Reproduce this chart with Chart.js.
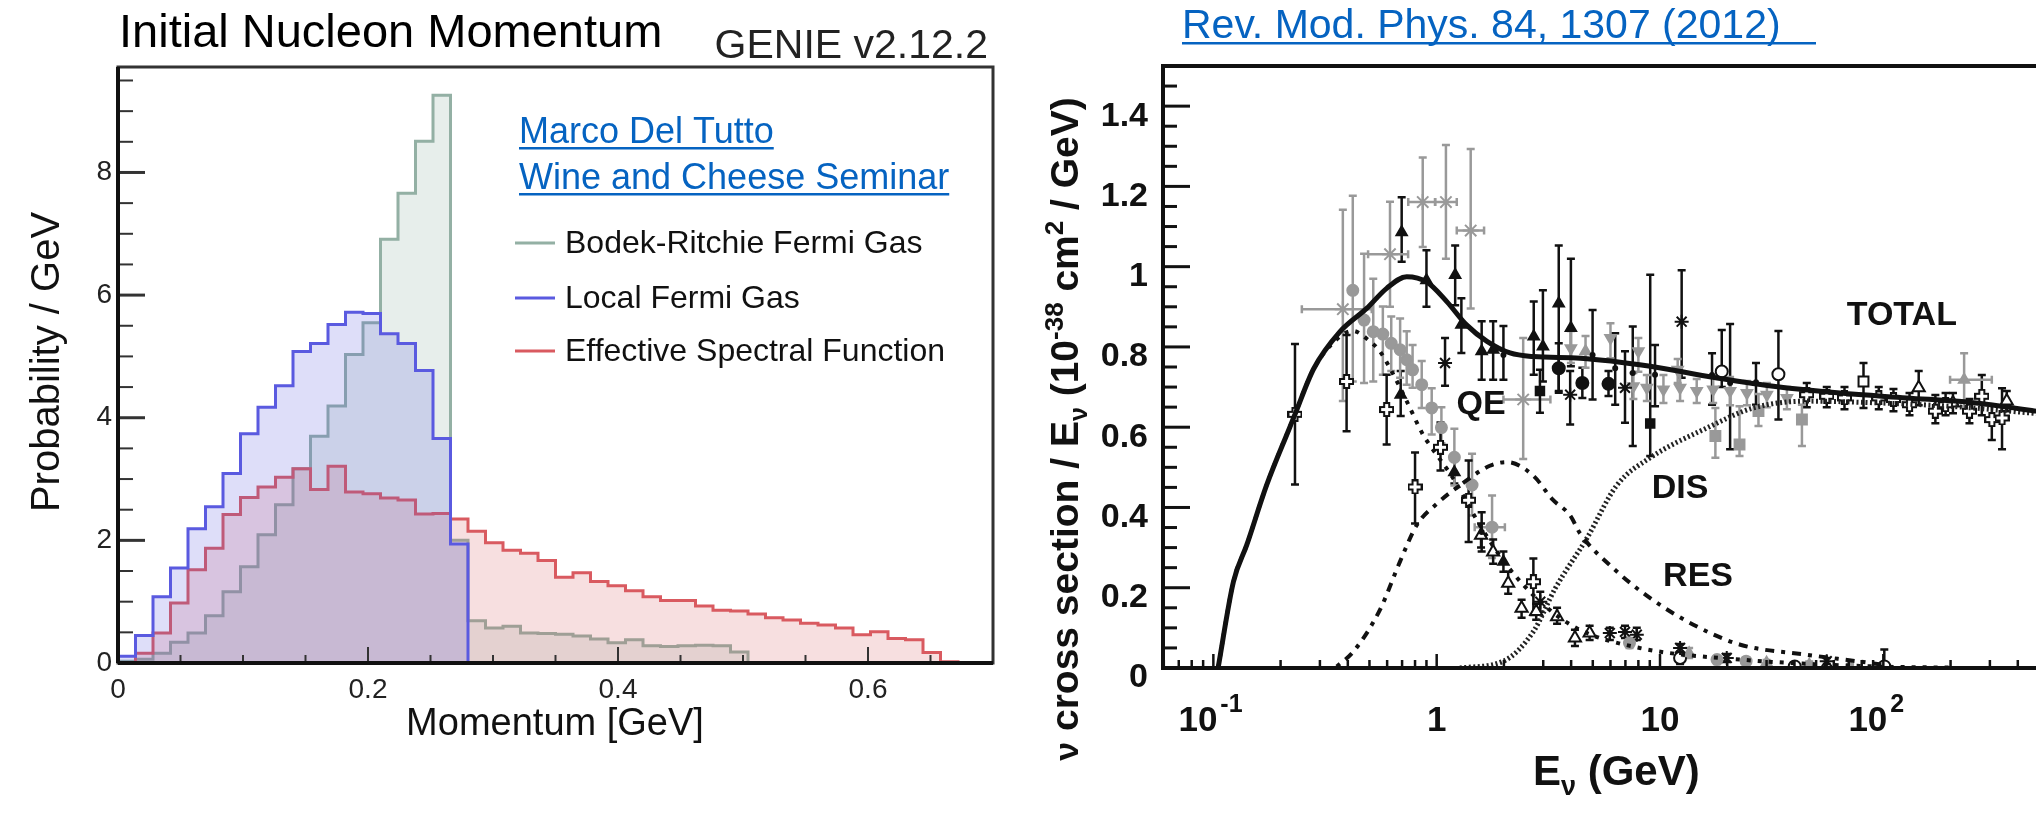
<!DOCTYPE html>
<html>
<head>
<meta charset="utf-8">
<title>Nucleon momentum and neutrino cross section</title>
<script src="https://cdn.jsdelivr.net/npm/chart.js@4.4.1/dist/chart.umd.min.js"></script>
<style>
  html, body { margin: 0; padding: 0; background: #fff; width: 2036px; height: 818px; overflow: hidden; }
  canvas { position: absolute; top: 0; }
  #momentum { left: 0; }
  #xsec { left: 1010px; }
</style>
</head>
<body>
<canvas id="momentum" width="1010" height="818"></canvas>
<canvas id="xsec" width="1050" height="818"></canvas>
<script>
const FONT = '"Liberation Sans", Arial, sans-serif';

// ---------- left panel: initial nucleon momentum, 0.014 GeV bins ----------
const binWidth = 0.014;
const bodekRitchie = [0.03, 0.06, 0.16, 0.34, 0.49, 0.77, 1.16, 1.57, 2.09, 2.58,
  3.17, 3.70, 4.19, 5.03, 5.55, 6.91, 7.66, 8.51, 9.26, 2.00,
  0.69, 0.57, 0.60, 0.49, 0.48, 0.47, 0.44, 0.39, 0.33, 0.38,
  0.28, 0.27, 0.28, 0.29, 0.28, 0.18, 0, 0, 0, 0,
  0, 0, 0, 0, 0, 0, 0];
const localFermi = [0.11, 0.45, 1.08, 1.55, 2.19, 2.55, 3.09, 3.74, 4.17, 4.52,
  5.08, 5.21, 5.52, 5.72, 5.70, 5.37, 5.21, 4.77, 3.66, 1.94,
  0, 0, 0, 0, 0, 0, 0, 0, 0, 0,
  0, 0, 0, 0, 0, 0, 0, 0, 0, 0,
  0, 0, 0, 0, 0, 0, 0];
const effSpectral = [0.01, 0.16, 0.49, 0.98, 1.52, 1.87, 2.42, 2.70, 2.87, 3.03,
  3.17, 2.83, 3.21, 2.79, 2.76, 2.69, 2.66, 2.43, 2.44, 2.35,
  2.15, 1.96, 1.84, 1.79, 1.67, 1.40, 1.47, 1.33, 1.26, 1.18,
  1.08, 1.02, 1.02, 0.93, 0.86, 0.85, 0.80, 0.74, 0.70, 0.65,
  0.62, 0.57, 0.46, 0.51, 0.40, 0.38, 0.17, 0.02, 0, 0];
const momentumTicks = [0, 0.2, 0.4, 0.6];
const probTicks = [0, 2, 4, 6, 8];

// ---------- right panel: nu_mu CC cross section / E ----------
const energyTicks = [0.1, 1, 10, 100];
const xsecTicks = [0, 0.2, 0.4, 0.6, 0.8, 1, 1.2, 1.4];

const totalE = [0.105, 0.123, 0.141, 0.173, 0.22, 0.232, 0.281, 0.369, 0.486, 0.597, 0.734, 0.902, 1.11, 1.36, 1.68, 2.13, 2.71, 4.39, 9.04, 16.2, 32.2, 64, 127, 253, 483, 535];
const totalY = [0, 0.215, 0.306, 0.455, 0.60, 0.632, 0.745, 0.838, 0.896, 0.946, 0.975, 0.962, 0.913, 0.855, 0.814, 0.785, 0.776, 0.772, 0.752, 0.727, 0.702, 0.685, 0.673, 0.661, 0.640, 0.636];
const qeE = [0.105, 0.123, 0.141, 0.173, 0.232, 0.281, 0.369, 0.42, 0.5, 0.557, 0.64, 0.734, 0.871, 0.933, 1.19, 1.56, 2.06, 2.91, 4.24, 8.1, 22.9, 90, 200];
const qeY = [0, 0.215, 0.306, 0.455, 0.632, 0.745, 0.826, 0.84, 0.815, 0.789, 0.731, 0.665, 0.58, 0.555, 0.471, 0.356, 0.256, 0.165, 0.099, 0.05, 0.021, 0.004, 0.001];
const resE = [0.357, 0.424, 0.557, 0.685, 0.814, 1.0, 1.27, 1.73, 2.06, 2.71, 3.3, 3.96, 4.39, 6.19, 9.04, 14.1, 22.9, 45.5, 76, 100];
const resY = [0.004, 0.041, 0.145, 0.265, 0.356, 0.409, 0.455, 0.504, 0.513, 0.479, 0.42, 0.38, 0.335, 0.248, 0.174, 0.108, 0.058, 0.033, 0.017, 0.008];
const disE = [1.27, 1.99, 2.71, 3.4, 4.7, 6.4, 9.04, 16.2, 26.2, 45.5, 100, 200, 535];
const disY = [0, 0.017, 0.091, 0.199, 0.323, 0.455, 0.524, 0.598, 0.648, 0.665, 0.66, 0.652, 0.632];
const curveLabels = [['TOTAL', 121, 0.879], ['QE', 1.58, 0.656], ['DIS', 12.3, 0.447], ['RES', 14.8, 0.227]];

// measurements: energy, value, lower and upper error
const blkTriE = [0.697, 0.69, 0.90, 1.21, 1.29, 1.59, 1.79, 2.72, 2.99, 3.52, 3.99, 1.20, 1.99];
const blkTriY = [1.086, 0.681, 0.966, 0.979, 0.855, 0.789, 0.793, 0.826, 0.801, 0.908, 0.847, 0.488, 0.265];
const blkTriLo = [1.012, 0.628, 0.900, 0.904, 0.785, 0.718, 0.718, 0.731, 0.714, 0.690, 0.752, 0.46, 0.24];
const blkTriHi = [1.173, 0.740, 1.041, 1.053, 0.921, 0.864, 0.864, 0.913, 0.941, 1.053, 1.020, 0.52, 0.29];

const grayDotE = [0.421, 0.473, 0.52, 0.574, 0.626, 0.686, 0.734, 0.78, 0.857, 0.95, 1.05, 1.20, 1.44, 1.77, 7.3, 18.0, 24.3];
const grayDotY = [0.941, 0.867, 0.838, 0.832, 0.809, 0.793, 0.768, 0.743, 0.706, 0.648, 0.599, 0.525, 0.456, 0.351, 0.062, 0.021, 0.017];
const grayDotLo = [0.714, 0.710, 0.714, 0.731, 0.740, 0.723, 0.706, 0.698, 0.648, 0.582, 0.56, 0.455, 0.380, 0.274, 0.05, 0.01, 0.008];
const grayDotHi = [1.177, 1.032, 0.970, 0.901, 0.876, 0.871, 0.839, 0.805, 0.765, 0.697, 0.65, 0.596, 0.534, 0.430, 0.075, 0.03, 0.026];
const grayDotXLo = [null, null, null, null, null, null, null, null, null, null, null, null, null, 1.48, null, null, null];
const grayDotXHi = [null, null, null, null, null, null, null, null, null, null, null, null, null, 2.02, null, null, null];

const grayStarE = [0.380, 0.618, 0.866, 1.10, 1.42, 2.44];
const grayStarY = [0.894, 1.031, 1.161, 1.161, 1.090, 0.669];
const grayStarLo = [0.665, 0.900, 1.049, 1.020, 0.896, 0.521];
const grayStarHi = [1.142, 1.162, 1.272, 1.303, 1.293, 0.822];
const grayStarXLo = [0.249, 0.493, 0.746, 0.984, 1.23, 1.99];
const grayStarXHi = [0.512, 0.745, 0.984, 1.23, 1.63, 3.23];

const openPlusE = [0.232, 0.395, 0.597, 0.800, 1.04, 1.39, 2.71, 45.4, 55.8, 67, 95.4, 111, 131, 171, 190, 243, 276, 306, 340];
const openPlusY = [0.632, 0.714, 0.644, 0.451, 0.550, 0.418, 0.215, 0.681, 0.677, 0.673, 0.673, 0.669, 0.656, 0.640, 0.656, 0.640, 0.677, 0.619, 0.623];
const openPlusLo = [0.457, 0.590, 0.557, 0.360, 0.492, 0.314, 0.132, 0.65, 0.65, 0.645, 0.645, 0.64, 0.63, 0.61, 0.63, 0.61, 0.63, 0.568, 0.545];
const openPlusHi = [0.807, 0.830, 0.731, 0.537, 0.612, 0.517, 0.273, 0.71, 0.70, 0.70, 0.70, 0.695, 0.685, 0.68, 0.685, 0.67, 0.73, 0.656, 0.697];

const blkStarE = [1.09, 3.96, 6.97, 12.5, 2.91, 5.96, 6.97, 7.87, 12.3, 19.9, 55.8];
const blkStarY = [0.760, 0.681, 0.698, 0.863, 0.165, 0.087, 0.090, 0.083, 0.050, 0.025, 0.017];
const blkStarLo = [0.703, 0.607, 0.611, 0.723, 0.14, 0.07, 0.075, 0.07, 0.04, 0.015, 0.01];
const blkStarHi = [0.822, 0.740, 0.789, 0.991, 0.19, 0.10, 0.105, 0.10, 0.06, 0.035, 0.025];

const blkDotE = [3.52, 4.49, 5.88];
const blkDotY = [0.747, 0.710, 0.708];
const blkDotLo = [0.686, 0.673, 0.678];
const blkDotHi = [0.809, 0.748, 0.740];

const blkSqE = [2.90, 9.04];
const blkSqY = [0.690, 0.609];
const blkSqLo = [0.636, 0.528];
const blkSqHi = [0.743, 0.980];

const blkBarE = [1.99, 4.99, 6.3, 7.55, 9.5, 20.6, 17.1, 26.9, 1.59];
const blkBarY = [0.78, 0.78, 0.747, 0.735, 0.731, 0.71, 0.73, 0.712, 0.339];
const blkBarLo = [0.718, 0.669, 0.656, 0.553, 0.652, 0.545, 0.656, 0.656, 0.29];
const blkBarHi = [0.852, 0.892, 0.834, 0.851, 0.805, 0.857, 0.784, 0.760, 0.388];

const grayDownE = [3.99, 6.0, 8.0, 12.0, 7.6, 8.73, 10.36, 12.3, 14.6, 17.3, 20.6, 24.5, 30.1, 37.0];
const grayDownY = [0.797, 0.822, 0.789, 0.743, 0.702, 0.698, 0.694, 0.698, 0.690, 0.694, 0.690, 0.685, 0.681, 0.673];
const grayDownLo = [0.76, 0.772, 0.738, 0.71, 0.67, 0.665, 0.66, 0.665, 0.66, 0.66, 0.655, 0.655, 0.65, 0.645];
const grayDownHi = [0.84, 0.859, 0.822, 0.77, 0.735, 0.73, 0.73, 0.735, 0.72, 0.73, 0.725, 0.715, 0.71, 0.70];

const grayTriE = [4.64, 230, 13.5, 30.0, 46.6, 71];
const grayTriY = [0.789, 0.718, 0.037, 0.013, 0.008, 0.003];
const grayTriLo = [0.748, 0.652, 0.025, 0.005, 0.0, 0.0];
const grayTriHi = [0.827, 0.784, 0.05, 0.02, 0.016, 0.01];
const grayTriXLo = [null, 199, null, null, null, null];
const grayTriXHi = [null, 306, null, null, null, null];

const graySqE = [17.7, 22.7, 27.6, 43.2];
const graySqY = [0.578, 0.557, 0.640, 0.619];
const graySqLo = [0.524, 0.528, 0.603, 0.553];
const graySqHi = [0.648, 0.652, 0.683, 0.656];

const openDotE = [18.9, 33.9, 12.3, 40.1, 101];
const openDotY = [0.739, 0.732, 0.025, 0.004, 0.004];
const openDotLo = [0.70, 0.619, 0.01, 0.0, 0.0];
const openDotHi = [0.842, 0.840, 0.04, 0.012, 0.046];

const openTriE = [1.58, 1.79, 2.09, 2.40, 2.79, 3.46, 4.16, 4.84, 144, 205, 357];
const openTriY = [0.331, 0.289, 0.211, 0.149, 0.141, 0.128, 0.075, 0.087, 0.698, 0.660, 0.665];
const openTriLo = [0.30, 0.26, 0.185, 0.125, 0.12, 0.11, 0.055, 0.07, 0.655, 0.635, 0.64];
const openTriHi = [0.36, 0.32, 0.24, 0.17, 0.16, 0.15, 0.095, 0.105, 0.74, 0.685, 0.69];

const openSqE = [81.5];
const openSqY = [0.714];
const openSqLo = [0.648];
const openSqHi = [0.760];

// ---------- helpers ----------
// bin i covers [i*binWidth, (i+1)*binWidth]
function steps(vals) {
  const pts = vals.map((v, i) => ({ x: i * binWidth, y: v }));
  pts.push({ x: vals.length * binWidth, y: vals[vals.length - 1] });
  return pts;
}
function pts(xs, ys) {
  return xs.map((x, i) => ({ x: x, y: ys[i] }));
}
function plusMarker(size) {
  const c = document.createElement('canvas');
  c.width = c.height = size;
  const g = c.getContext('2d');
  const t = size * 0.34, m = (size - t) / 2, e = size - 1;
  g.beginPath();
  g.moveTo(m, 1); g.lineTo(m + t, 1); g.lineTo(m + t, m); g.lineTo(e, m);
  g.lineTo(e, m + t); g.lineTo(m + t, m + t); g.lineTo(m + t, e); g.lineTo(m, e);
  g.lineTo(m, m + t); g.lineTo(1, m + t); g.lineTo(1, m); g.lineTo(m, m);
  g.closePath();
  g.fillStyle = '#fff'; g.fill();
  g.lineWidth = 2; g.strokeStyle = '#111'; g.stroke();
  return c;
}
function underlined(ctx, text, x, y, color, endX) {
  ctx.fillStyle = color;
  ctx.textAlign = 'left';
  ctx.textBaseline = 'alphabetic';
  ctx.fillText(text, x, y);
  const w = endX ? endX - x : ctx.measureText(text).width;
  ctx.fillRect(x, y + 4, w, 2.5);
}
// draws a run of [text, size, dy] pieces starting at x
function richText(ctx, parts, x, y, weight) {
  let cx = x;
  for (const [t, size, dy] of parts) {
    ctx.font = `${weight} ${size}px ${FONT}`;
    ctx.fillText(t, cx, y + dy);
    cx += ctx.measureText(t).width;
  }
  return cx;
}
function richWidth(ctx, parts, weight) {
  let w = 0;
  for (const [t, size] of parts) {
    ctx.font = `${weight} ${size}px ${FONT}`;
    w += ctx.measureText(t).width;
  }
  return w;
}

// ---------- left panel decorations ----------
const momentumDecor = {
  id: 'momentumDecor',
  afterDraw(chart) {
    const { ctx, chartArea: a, scales: { x, y } } = chart;
    ctx.save();
    // inner tick marks
    ctx.strokeStyle = '#333';
    for (let k = 0; k <= 19; k++) {
      const py = y.getPixelForValue(k * 0.5);
      const major = k % 4 === 0;
      ctx.lineWidth = major ? 3 : 2;
      ctx.beginPath(); ctx.moveTo(a.left, py); ctx.lineTo(a.left + (major ? 27 : 15), py); ctx.stroke();
    }
    for (let k = 0; k <= 14; k++) {
      const px = x.getPixelForValue(k * 0.05);
      const major = k % 4 === 0;
      ctx.lineWidth = 2;
      ctx.beginPath(); ctx.moveTo(px, a.bottom); ctx.lineTo(px, a.bottom - (major ? 16 : 8)); ctx.stroke();
    }
    // frame
    ctx.lineWidth = 3;
    ctx.strokeStyle = '#333';
    ctx.strokeRect(a.left, a.top, a.right - a.left, a.bottom - a.top);
    ctx.strokeStyle = '#111';
    ctx.lineWidth = 4;
    ctx.beginPath(); ctx.moveTo(a.left, a.bottom); ctx.lineTo(a.right, a.bottom); ctx.stroke();
    ctx.beginPath(); ctx.moveTo(a.left, a.top); ctx.lineTo(a.left, a.bottom); ctx.stroke();

    // legend
    const rows = [
      ['Bodek-Ritchie Fermi Gas', '#93b0a4', 243],
      ['Local Fermi Gas', '#5a5ae0', 298],
      ['Effective Spectral Function', '#d95a60', 351]
    ];
    ctx.font = `32px ${FONT}`;
    ctx.textBaseline = 'middle';
    ctx.textAlign = 'left';
    for (const [label, color, ly] of rows) {
      ctx.strokeStyle = color; ctx.lineWidth = 3;
      ctx.beginPath(); ctx.moveTo(515, ly); ctx.lineTo(555, ly); ctx.stroke();
      ctx.fillStyle = '#111';
      ctx.fillText(label, 565, ly + 1);
    }

    // titles
    ctx.fillStyle = '#000';
    ctx.textBaseline = 'alphabetic';
    ctx.font = `47px ${FONT}`;
    ctx.fillText('Initial Nucleon Momentum', 119, 47);
    ctx.fillStyle = '#222';
    ctx.font = `41px ${FONT}`;
    ctx.textAlign = 'right';
    ctx.fillText('GENIE v2.12.2', 988, 58);

    ctx.font = `36px ${FONT}`;
    underlined(ctx, 'Marco Del Tutto', 519, 143, '#0563C1');
    underlined(ctx, 'Wine and Cheese Seminar', 519, 189, '#0563C1');

    ctx.fillStyle = '#111';
    ctx.font = `38px ${FONT}`;
    ctx.textAlign = 'center';
    ctx.fillText('Momentum [GeV]', 555, 735);

    ctx.save();
    ctx.translate(48, 362);
    ctx.rotate(-Math.PI / 2);
    ctx.font = `40px ${FONT}`;
    ctx.textBaseline = 'middle';
    ctx.fillText('Probability / GeV', 0, 0);
    ctx.restore();
    ctx.restore();
  }
};

new Chart(document.getElementById('momentum'), {
  type: 'line',
  data: {
    datasets: [
      { label: 'Local Fermi Gas', data: steps(localFermi), borderColor: '#5a5ae0', backgroundColor: 'rgba(90,90,225,0.2)' },
      { label: 'Effective Spectral Function', data: steps(effSpectral), borderColor: '#d95a60', backgroundColor: 'rgba(215,85,90,0.19)' },
      { label: 'Bodek-Ritchie Fermi Gas', data: steps(bodekRitchie), borderColor: '#93b0a4', backgroundColor: 'rgba(147,176,164,0.22)' }
    ].map(d => Object.assign(d, { fill: 'origin', stepped: 'before', borderWidth: 3, pointRadius: 0 }))
  },
  options: {
    responsive: false,
    animation: false,
    devicePixelRatio: 1,
    layout: { padding: { left: 0, top: 67, right: 17, bottom: 0 } },
    plugins: { legend: { display: false }, tooltip: { enabled: false } },
    scales: {
      x: {
        type: 'linear', min: 0, max: 0.7,
        afterBuildTicks: s => { s.ticks = momentumTicks.map(v => ({ value: v })); },
        afterFit: s => { s.height = 155; },
        grid: { display: false, drawTicks: false },
        border: { display: false },
        ticks: { padding: 10, maxRotation: 0, autoSkip: false, color: '#222', font: { family: FONT, size: 28 }, callback: v => String(v) }
      },
      y: {
        type: 'linear', min: 0, max: 9.72,
        afterBuildTicks: s => { s.ticks = probTicks.map(v => ({ value: v })); },
        afterFit: s => { s.width = 118; },
        grid: { display: false, drawTicks: false },
        border: { display: false },
        ticks: { padding: 6, autoSkip: false, color: '#222', font: { family: FONT, size: 28 }, callback: v => String(v) }
      }
    }
  },
  plugins: [momentumDecor]
});

// ---------- right panel ----------
const errorBars = {
  id: 'errorBars',
  beforeDatasetsDraw(chart) {
    const { ctx, chartArea: a, scales: { x, y } } = chart;
    ctx.save();
    ctx.beginPath(); ctx.rect(a.left, a.top, a.right - a.left, a.bottom - a.top); ctx.clip();
    chart.data.datasets.forEach(ds => {
      if (!ds.errLo) return;
      ctx.strokeStyle = ds.errColor;
      ctx.lineWidth = 2.5;
      ds.data.forEach((p, i) => {
        const px = x.getPixelForValue(p.x);
        const py = y.getPixelForValue(p.y);
        const lo = y.getPixelForValue(ds.errLo[i]);
        const hi = y.getPixelForValue(ds.errHi[i]);
        ctx.beginPath();
        ctx.moveTo(px, lo); ctx.lineTo(px, hi);
        ctx.moveTo(px - 4, lo); ctx.lineTo(px + 4, lo);
        ctx.moveTo(px - 4, hi); ctx.lineTo(px + 4, hi);
        if (ds.xLo && ds.xLo[i] != null) {
          const l = x.getPixelForValue(ds.xLo[i]), r = x.getPixelForValue(ds.xHi[i]);
          ctx.moveTo(l, py); ctx.lineTo(r, py);
          ctx.moveTo(l, py - 4); ctx.lineTo(l, py + 4);
          ctx.moveTo(r, py - 4); ctx.lineTo(r, py + 4);
        }
        ctx.stroke();
      });
    });
    ctx.restore();
  }
};

const xsecDecor = {
  id: 'xsecDecor',
  afterDraw(chart) {
    const { ctx, chartArea: a, scales: { x, y } } = chart;
    ctx.save();
    ctx.strokeStyle = '#111';
    // y ticks every 0.05
    for (let k = 0; k <= 29; k++) {
      const py = y.getPixelForValue(k * 0.05);
      const major = k % 4 === 0;
      ctx.lineWidth = 3;
      ctx.beginPath(); ctx.moveTo(a.left, py); ctx.lineTo(a.left + (major ? 27 : 14), py); ctx.stroke();
    }
    // log x ticks
    for (let dec = -2; dec <= 2; dec++) {
      for (let m = 1; m <= 9; m++) {
        const v = m * Math.pow(10, dec);
        if (v < x.min || v > x.max) continue;
        const px = x.getPixelForValue(v);
        ctx.lineWidth = 2.5;
        ctx.beginPath(); ctx.moveTo(px, a.bottom); ctx.lineTo(px, a.bottom - (m === 1 ? 14 : 8)); ctx.stroke();
      }
    }
    // frame
    ctx.lineWidth = 4;
    ctx.strokeRect(a.left, a.top, a.right - a.left, a.bottom - a.top);

    // x tick labels with powers of ten
    ctx.fillStyle = '#111';
    ctx.textBaseline = 'alphabetic';
    energyTicks.forEach(v => {
      const px = x.getPixelForValue(v);
      const exp = Math.round(Math.log10(v));
      ctx.font = `bold 35px ${FONT}`;
      if (exp === 0 || exp === 1) {
        ctx.textAlign = 'center';
        ctx.fillText(String(v), px, 731);
      } else {
        ctx.textAlign = 'right';
        ctx.fillText('10', px + 4, 731);
        ctx.textAlign = 'left';
        ctx.font = `bold 25px ${FONT}`;
        ctx.fillText(exp < 0 ? '-1' : String(exp), px + 7, 712);
      }
    });

    // curve labels
    ctx.font = `bold 34px ${FONT}`;
    ctx.textAlign = 'center';
    ctx.textBaseline = 'middle';
    curveLabels.forEach(([t, e, v]) => {
      ctx.fillText(t, x.getPixelForValue(e), y.getPixelForValue(v));
    });

    // axis titles
    ctx.textAlign = 'left';
    ctx.textBaseline = 'alphabetic';
    richText(ctx, [['E', 42, 0], ['\u03bd', 27, 10], [' (GeV)', 42, 0]], 523, 785, 'bold');

    const yTitle = [['\u03bd', 34, 0], [' cross section / E', 39, 0], ['\u03bd', 25, 9],
      [' (10', 39, 0], ['-38', 26, -15], [' cm', 39, 0], ['2', 26, -15], [' / GeV)', 39, 0]];
    ctx.save();
    ctx.translate(54, 429);
    ctx.rotate(-Math.PI / 2);
    const w = richWidth(ctx, yTitle, 'bold');
    richText(ctx, yTitle, -w / 2, 14, 'bold');
    ctx.restore();

    // reference link
    ctx.font = `41px ${FONT}`;
    underlined(ctx, 'Rev. Mod. Phys. 84, 1307 (2012)', 172, 38, '#0563C1', 806);
    ctx.restore();
  }
};

const plusImg = plusMarker(15);
function series(xs, ys, lo, hi, style) {
  return Object.assign({ type: 'scatter', data: pts(xs, ys), errLo: lo, errHi: hi, order: 2, pointRadius: 6, borderWidth: 2 }, style);
}
function curve(xs, ys, style) {
  return Object.assign({ type: 'line', data: pts(xs, ys), pointRadius: 0, borderColor: '#111', fill: false, cubicInterpolationMode: 'monotone', order: 1 }, style);
}

new Chart(document.getElementById('xsec'), {
  type: 'scatter',
  data: {
    datasets: [
      curve(totalE, totalY, { label: 'TOTAL', borderWidth: 5 }),
      curve(qeE, qeY, { label: 'QE', borderWidth: 4, borderDash: [4, 7] }),
      curve(resE, resY, { label: 'RES', borderWidth: 4, borderDash: [4, 7, 9, 7] }),
      curve(disE, disY, { label: 'DIS', borderWidth: 5, borderDash: [2, 2.5], borderColor: '#222' }),
      series(blkTriE, blkTriY, blkTriLo, blkTriHi, { pointStyle: 'triangle', backgroundColor: '#111', borderColor: '#111', errColor: '#111' }),
      series(grayDotE, grayDotY, grayDotLo, grayDotHi, { pointStyle: 'circle', pointRadius: 5.5, backgroundColor: '#999', borderColor: '#999', errColor: '#999', xLo: grayDotXLo, xHi: grayDotXHi }),
      series(grayStarE, grayStarY, grayStarLo, grayStarHi, { pointStyle: 'star', pointRadius: 8, borderColor: '#999', errColor: '#999', xLo: grayStarXLo, xHi: grayStarXHi }),
      series(openPlusE, openPlusY, openPlusLo, openPlusHi, { pointStyle: plusImg, errColor: '#111' }),
      series(blkStarE, blkStarY, blkStarLo, blkStarHi, { pointStyle: 'star', pointRadius: 7, borderColor: '#111', errColor: '#111' }),
      series(blkDotE, blkDotY, blkDotLo, blkDotHi, { pointStyle: 'circle', backgroundColor: '#111', borderColor: '#111', errColor: '#111' }),
      series(blkSqE, blkSqY, blkSqLo, blkSqHi, { pointStyle: 'rect', backgroundColor: '#111', borderColor: '#111', errColor: '#111' }),
      series(blkBarE, blkBarY, blkBarLo, blkBarHi, { pointStyle: 'circle', pointRadius: 2, backgroundColor: '#111', borderColor: '#111', errColor: '#111' }),
      series(grayDownE, grayDownY, grayDownLo, grayDownHi, { pointStyle: 'triangle', rotation: 180, backgroundColor: '#999', borderColor: '#999', errColor: '#999' }),
      series(grayTriE, grayTriY, grayTriLo, grayTriHi, { pointStyle: 'triangle', backgroundColor: '#999', borderColor: '#999', errColor: '#999', xLo: grayTriXLo, xHi: grayTriXHi }),
      series(graySqE, graySqY, graySqLo, graySqHi, { pointStyle: 'rect', pointRadius: 7, backgroundColor: '#999', borderColor: '#999', errColor: '#999' }),
      series(openDotE, openDotY, openDotLo, openDotHi, { pointStyle: 'circle', backgroundColor: '#fff', borderColor: '#111', errColor: '#111' }),
      series(openTriE, openTriY, openTriLo, openTriHi, { pointStyle: 'triangle', pointRadius: 7, backgroundColor: '#fff', borderColor: '#111', errColor: '#111' }),
      series(openSqE, openSqY, openSqLo, openSqHi, { pointStyle: 'rect', pointRadius: 7, backgroundColor: '#fff', borderColor: '#111', errColor: '#111' })
    ]
  },
  options: {
    responsive: false,
    animation: false,
    devicePixelRatio: 1,
    layout: { padding: { left: 0, top: 66, right: 14, bottom: 0 } },
    plugins: { legend: { display: false }, tooltip: { enabled: false } },
    scales: {
      x: {
        type: 'logarithmic', min: 0.0595, max: 535,
        afterFit: s => { s.height = 150; },
        grid: { display: false, drawTicks: false },
        border: { display: false },
        ticks: { display: false }
      },
      y: {
        type: 'linear', min: 0, max: 1.5,
        afterBuildTicks: s => { s.ticks = xsecTicks.map(v => ({ value: v })); },
        afterFit: s => { s.width = 153; },
        grid: { display: false, drawTicks: false },
        border: { display: false },
        ticks: { padding: 15, labelOffset: 10, autoSkip: false, color: '#111', font: { family: FONT, size: 34, weight: 'bold' }, callback: v => String(v) }
      }
    }
  },
  plugins: [errorBars, xsecDecor]
});
</script>
</body>
</html>
